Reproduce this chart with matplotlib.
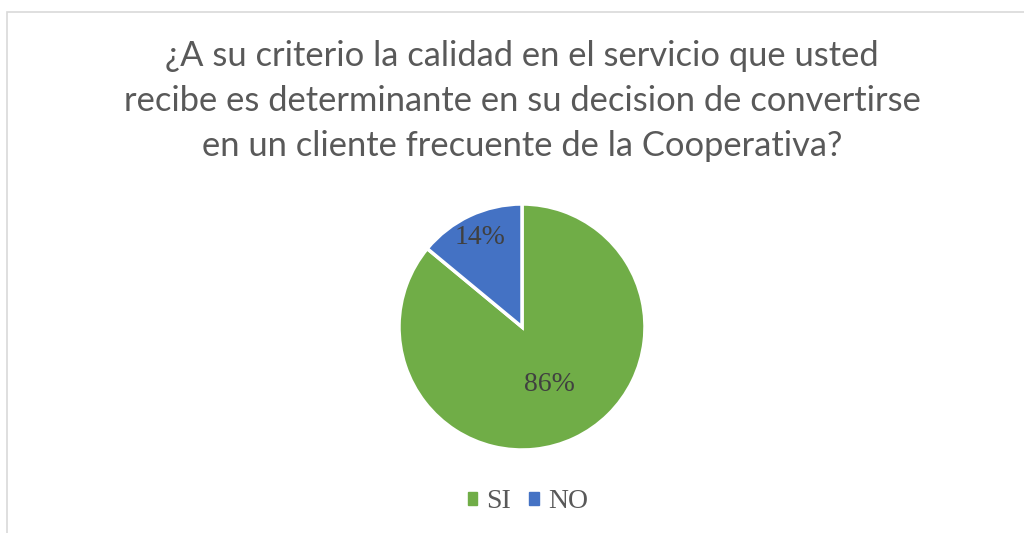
import numpy as np
import matplotlib
matplotlib.use("Agg")
import matplotlib.pyplot as plt
from matplotlib.patches import Rectangle

# data
categories = ["SI", "NO"]
percentages = [86, 14]
colors = ["#70AD47", "#4472C4"]
label_dist = [0.52, 0.80]
title = ("¿A su criterio la calidad en el servicio que usted\n"
         "recibe es determinante en su decision de convertirse\n"
         "en un cliente frecuente de la Cooperativa?")

fig = plt.figure(figsize=(10.24, 5.33), dpi=100)

# chart area frame
fig.patches.append(Rectangle((7 / 1024, -0.1), 1.1, (533 - 12) / 533 + 0.1,
                             transform=fig.transFigure, fill=False,
                             edgecolor="#D9D9D9", linewidth=1.2))

fig.text(522 / 1024, 1 - 101 / 533, title, ha="center", va="center",
         fontsize=24.8, color="#595959", family="Lato", linespacing=1.5)

ax = fig.add_axes([(522 - 123) / 1024, (533 - 327 - 123) / 533,
                   246 / 1024, 246 / 533])
wedges, _ = ax.pie(percentages, colors=colors, startangle=90, counterclock=False,
                   wedgeprops=dict(edgecolor="white", linewidth=2.5))
ax.set_xlim(-1, 1)
ax.set_ylim(-1, 1)
ax.set_aspect("equal")
ax.axis("off")

for w, p, d in zip(wedges, percentages, label_dist):
    ang = np.deg2rad((w.theta1 + w.theta2) / 2)
    ax.text(d * np.cos(ang), d * np.sin(ang), f"{p}%", ha="center", va="center",
            fontsize=20, color="#404040", family="Liberation Serif")

handles = [Rectangle((0, 0), 1, 1, color=c) for c in colors]
fig.legend(handles, categories, loc="center", bbox_to_anchor=(528 / 1024, 1 - 502 / 533),
           ncol=2, frameon=False, prop={"family": "Liberation Serif", "size": 20},
           handlelength=0.33, handleheight=0.33, handletextpad=0.33, columnspacing=0.65,
           labelcolor="#595959")

fig.savefig("out.png", dpi=100)
